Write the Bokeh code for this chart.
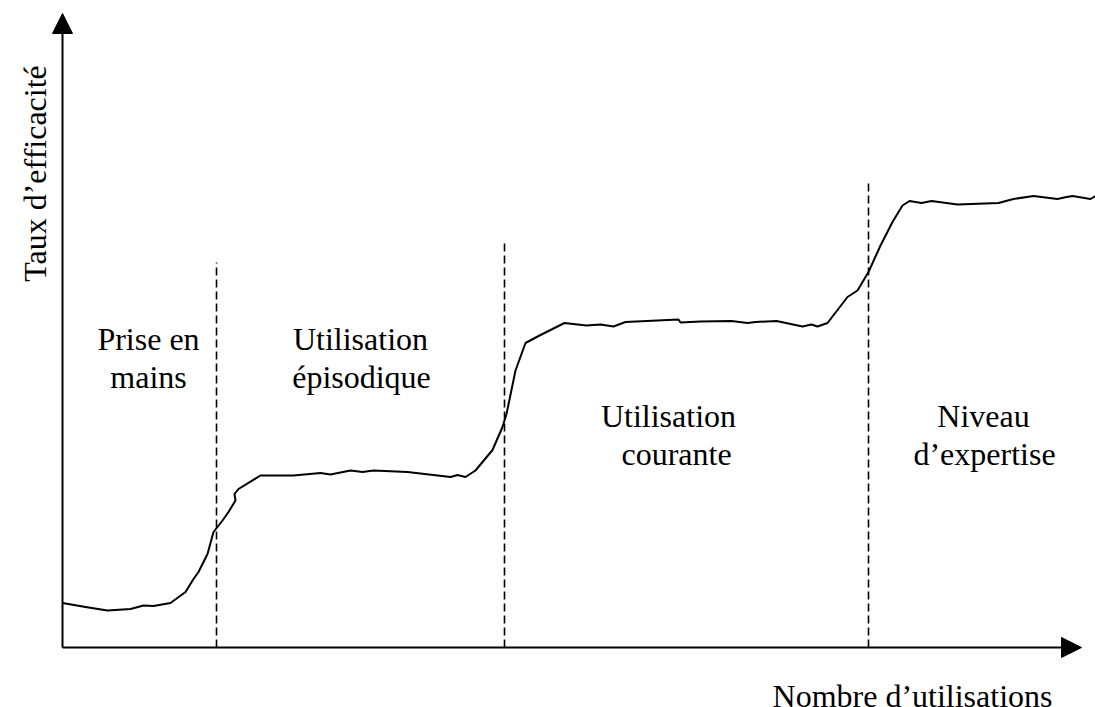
from bokeh.plotting import figure
from bokeh.models import Range1d, Arrow, NormalHead, ColumnDataSource
from bokeh.core.properties import value
from bokeh.embed import file_html
from bokeh.resources import INLINE
import math

# Learning curve: efficiency vs number of uses (arbitrary units)
uses = [0, 2.3, 4.5, 6.8, 8.1, 9.1, 10.8, 12.3, 13.1, 13.6, 14.5, 15.1, 16.0, 16.6,
        17.3, 17.2, 17.6, 19.8, 23.1, 25.8, 26.8, 28.8, 30.0, 31.1, 34.5, 38.8, 39.5,
        40.3, 41.3, 43.0, 44.0, 44.4, 45.3, 46.3, 47.7, 50.2, 52.4, 53.8, 55.1, 56.3,
        59.5, 61.6, 61.8, 63.8, 66.9, 68.5, 69.3, 71.4, 74.0, 74.9, 75.5, 76.5, 78.5,
        79.5, 80.6, 81.8, 83.0, 84.0, 84.7, 85.9, 86.9, 89.5, 93.6, 95.1, 97.1, 99.5,
        100.4, 101.0, 102.8, 103.3]
efficiency = [8.9, 8.1, 7.4, 7.7, 8.4, 8.3, 8.9, 11.1, 13.7, 15.1, 18.7, 23.1, 25.4, 27.1,
              29.4, 30.7, 31.7, 34.4, 34.4, 34.9, 34.6, 35.4, 35.1, 35.4, 35.1, 34.1, 34.5,
              34.1, 35.4, 39.5, 44.1, 46.7, 55.4, 60.9, 62.4, 64.9, 64.4, 64.6, 64.2, 65.1,
              65.4, 65.6, 65.0, 65.2, 65.3, 64.9, 65.1, 65.3, 64.2, 64.6, 64.2, 64.9, 70.1,
              71.4, 75.1, 80.4, 85.1, 88.4, 89.3, 88.9, 89.3, 88.6, 88.9, 89.7, 90.3, 89.7,
              90.1, 90.3, 89.7, 90.3]

# Phase boundaries (dashed) and their heights
boundary_x = [15.4, 44.2, 80.6]
boundary_top = [77.0, 81.2, 92.8]

# Phase labels (one entry per text line)
label_text = ["Prise en", "mains", "Utilisation", "épisodique",
              "Utilisation", "courante", "Niveau", "d\u2019expertise"]
label_x = [8.6, 8.6, 29.8, 29.9, 60.6, 61.4, 92.1, 92.2]
label_y = [61.7, 54.1, 61.7, 54.1, 46.4, 38.7, 46.4, 38.7]

x_title = "Nombre d\u2019utilisations"
y_title = "Taux d\u2019efficacit\u00e9"
x_axis_end = 101.9
y_axis_end = 126.8

FONT = value("Liberation Serif")

p = figure(width=1095, height=707, output_backend="svg", toolbar_location=None,
           x_range=Range1d(-6.2, 103.3), y_range=Range1d(-12.0, 129.4),
           x_axis_type=None, y_axis_type=None,
           min_border=0, min_border_left=0, min_border_right=0,
           min_border_top=0, min_border_bottom=0)
p.outline_line_color = None
p.grid.visible = False
p.background_fill_color = "white"
p.border_fill_color = "white"

# Axes with arrow heads
p.add_layout(Arrow(x_start=0, y_start=0, x_end=x_axis_end, y_end=0,
                   line_width=2, line_color="black",
                   end=NormalHead(size=20, fill_color="black", line_color="black", line_width=1)))
p.add_layout(Arrow(x_start=0, y_start=0, x_end=0, y_end=y_axis_end,
                   line_width=2, line_color="black",
                   end=NormalHead(size=20, fill_color="black", line_color="black", line_width=1)))

# Dashed phase boundaries
p.segment(x0=boundary_x, y0=[0] * len(boundary_x), x1=boundary_x, y1=boundary_top,
          line_color="black", line_width=1.6, line_dash="8 4")

# Curve
p.line(uses, efficiency, line_color="black", line_width=2, line_join="round")

# Phase labels
src = ColumnDataSource(dict(x=label_x, y=label_y, t=label_text))
p.text(x="x", y="y", text="t", source=src, text_font=FONT, text_font_size="32px",
       text_align="center", text_baseline="alphabetic", text_color="black")

# Axis titles
p.text(x=[85.0], y=[-9.6], text=[x_title], text_font=FONT, text_font_size="32px",
       text_align="center", text_baseline="alphabetic", text_color="black")
p.text(x=[-2.8], y=[94.8], text=[y_title], text_font=FONT, text_font_size="32px",
       text_align="center", text_baseline="alphabetic", text_color="black",
       angle=math.pi / 2)

open("out.html", "w").write(file_html(p, INLINE))
